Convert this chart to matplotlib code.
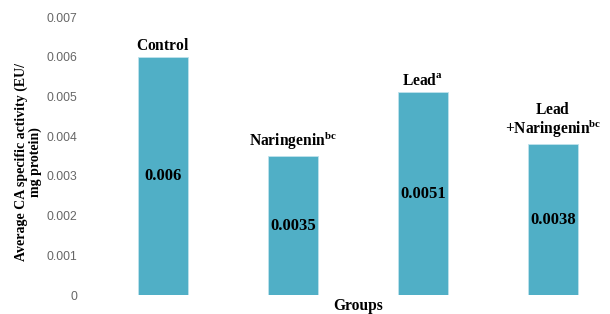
import matplotlib
matplotlib.use("Agg")
import matplotlib.pyplot as plt

categories = ["Control", "Naringenin", "Lead", "Lead\n+Naringenin"]
superscripts = ["", "bc", "a", "bc"]
values = [0.006, 0.0035, 0.0051, 0.0038]
value_labels = ["0.006", "0.0035", "0.0051", "0.0038"]
yticks = [0, 0.001, 0.002, 0.003, 0.004, 0.005, 0.006, 0.007]
ytick_labels = ["0", "0.001", "0.002", "0.003", "0.004", "0.005", "0.006", "0.007"]

plt.rcParams['mathtext.fontset'] = 'custom'
plt.rcParams['mathtext.bf'] = 'Liberation Serif:bold'
plt.rcParams['mathtext.rm'] = 'Liberation Serif'

W, H = 610, 314
fig = plt.figure(figsize=(W/100, H/100), dpi=100)
ax = fig.add_axes([98/W, 19/H, 520/W, 278/H])

color = "#50AFC6"
x = list(range(len(categories)))
ax.bar(x, values, width=0.39, color=color, edgecolor="#bfe3ec", linewidth=0.6)
ax.set_xlim(-0.5, 3.5)
ax.set_ylim(0, 0.007)

for s in ax.spines.values():
    s.set_visible(False)
ax.set_xticks([])
ax.set_yticks(yticks)
ax.set_yticklabels(ytick_labels, fontfamily="Liberation Sans", fontsize=8.7, color="#666666")
ax.tick_params(axis="y", length=0, pad=15)

serif = "Liberation Serif"
for xi, v, lab, sup, vl in zip(x, values, categories, superscripts, value_labels):
    ax.text(xi, v / 2, vl, ha="center", va="center", fontfamily=serif,
            fontweight="bold", fontsize=12, color="black")
    lines = lab.split("\n")
    parts = []
    for i, ln in enumerate(lines):
        t = r"\mathbf{" + ln + "}"
        if i == len(lines) - 1 and sup:
            t += r"^{\mathbf{" + sup + "}}"
        parts.append("$" + t + "$")
    txt = "\n".join(parts)
    ax.annotate(txt, (xi, v), xytext=(0, 3), textcoords="offset points",
                ha="center", va="bottom", fontsize=11.2, color="black",
                linespacing=1.0)

ax.set_ylabel("Average CA specific activity (EU/\nmg protein)", fontfamily=serif,
              fontweight="bold", fontsize=10, linespacing=1.05)
ax.yaxis.set_label_coords((42 - 98) / 520, (295 - 162) / 278)
fig.text(358/W, 1 - 306/H, "Groups", ha="center", va="center", fontfamily=serif,
         fontweight="bold", fontsize=11.2)

fig.savefig("out.png", dpi=100)
